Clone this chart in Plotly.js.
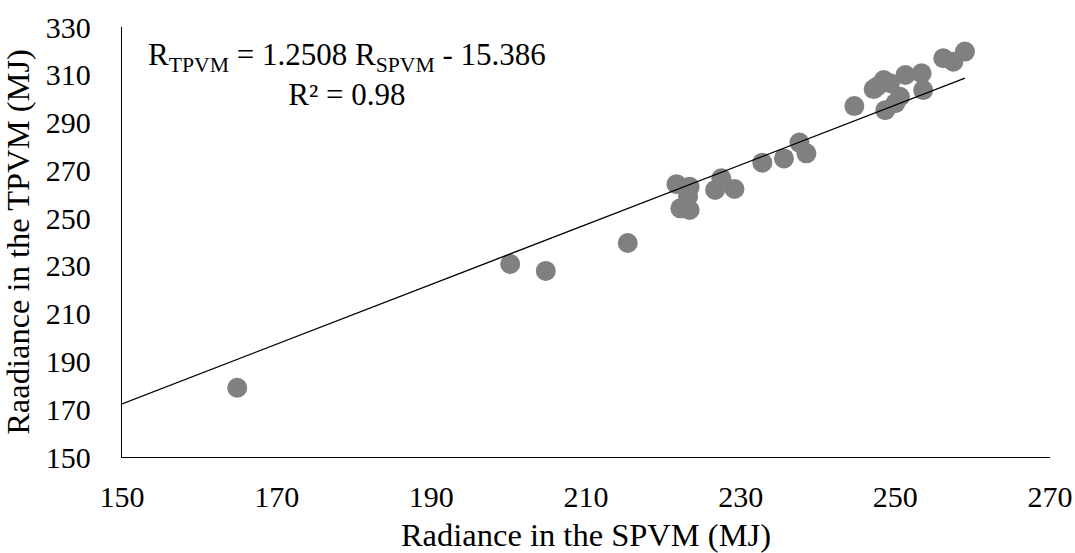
<!DOCTYPE html>
<html>
<head>
<meta charset="utf-8">
<script src="https://cdn.plot.ly/plotly-3.0.1.min.js"></script>
<style>html,body{margin:0;padding:0;background:#fff;}#chart{width:1075px;height:553px;}</style>
</head>
<body>
<div id="chart"></div>
<script>
const spvm = [164.9, 200.2, 204.8, 215.4, 221.7, 223.4, 223.2, 222.2, 223.4, 227.5, 226.7, 229.2, 232.8, 235.6, 238.5, 237.6, 244.7, 247.6, 248.5, 248.7, 250.0, 250.6, 251.3, 253.4, 253.6, 256.2, 257.5, 259.0, 249.3, 247.2];
const tpvm = [179.0, 230.8, 227.9, 239.6, 264.2, 263.1, 259.0, 254.1, 253.4, 266.7, 261.8, 262.2, 273.2, 275.0, 277.1, 281.6, 296.9, 305.0, 307.8, 295.2, 298.1, 300.8, 309.9, 310.6, 303.6, 316.9, 315.5, 319.7, 306.5, 304.0];
const slope = 1.2508;
const intercept = -15.386;
const fitX = [150, 259];
const fitY = fitX.map(x => slope * x + intercept);
const xTicks = [150, 170, 190, 210, 230, 250, 270];
const yTicks = [150, 170, 190, 210, 230, 250, 270, 290, 310, 330];

const font = "Liberation Serif, Times New Roman, serif";
const data = [
  {x: spvm, y: tpvm, mode: 'markers', type: 'scatter',
   marker: {color: '#808080', size: 20}, hoverinfo: 'x+y'},
  {x: fitX, y: fitY, mode: 'lines', type: 'scatter',
   line: {color: '#000', width: 1.3}}
];
const layout = {
  width: 1075, height: 553,
  margin: {l: 122, r: 25, t: 27, b: 96},
  showlegend: false,
  paper_bgcolor: '#fff', plot_bgcolor: '#fff',
  font: {family: font, color: '#000', size: 28},
  xaxis: {range: [150, 270], tickvals: xTicks, ticktext: xTicks.map(String), automargin: false,
    showgrid: false, zeroline: false, showline: true, linecolor: '#000', linewidth: 1.3,
    ticks: '', ticklabelstandoff: 13, tickfont: {size: 30, family: font},
    title: {text: 'Radiance in the SPVM (MJ)', font: {size: 32.5, family: font}, standoff: 12}},
  yaxis: {range: [150, 330], tickvals: yTicks, ticktext: yTicks.map(String), automargin: false,
    showgrid: false, zeroline: false, showline: true, linecolor: '#000', linewidth: 1.3,
    ticks: '', ticklabelstandoff: 24, tickfont: {size: 30, family: font},
    title: {text: 'Raadiance in the TPVM (MJ)', font: {size: 32.5, family: font}, standoff: 6}},
  annotations: [{
    xref: 'paper', yref: 'paper', x: 0.2427, y: 0.89, xanchor: 'center', yanchor: 'middle',
    text: 'R<sub>TPVM</sub> = 1.2508 R<sub>SPVM</sub> - 15.386<br>R² = 0.98',
    showarrow: false, align: 'center', font: {size: 31, family: font, color: '#000'}
  }]
};
Plotly.newPlot('chart', data, layout, {displayModeBar: false, staticPlot: true});
</script>
</body>
</html>
